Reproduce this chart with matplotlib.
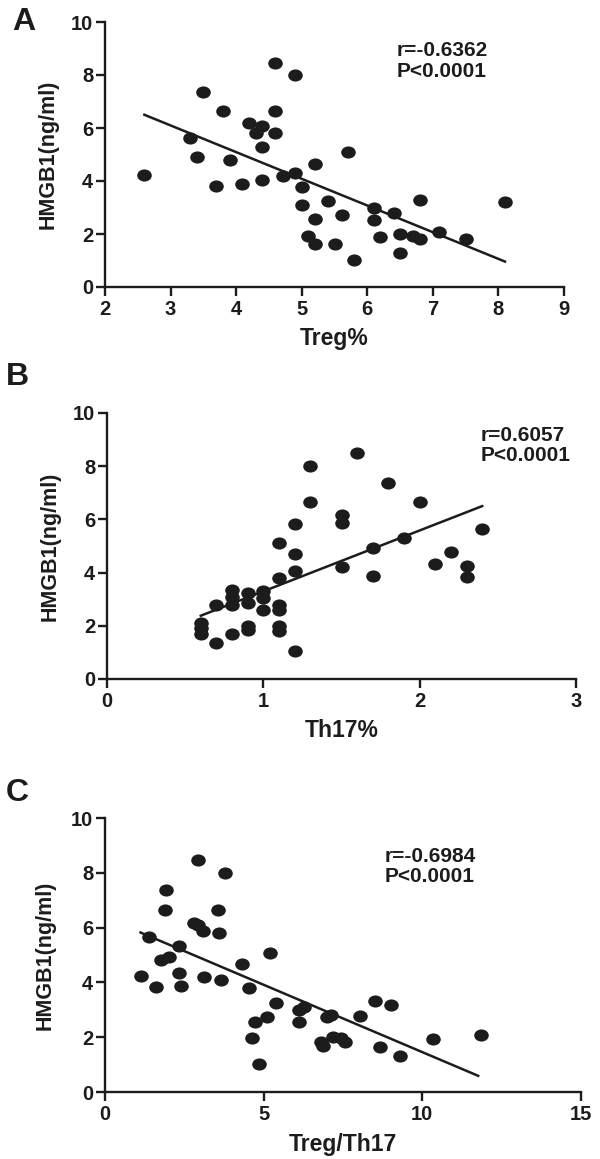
import matplotlib
matplotlib.use("Agg")
import matplotlib.pyplot as plt
from matplotlib.path import Path
from matplotlib.transforms import Affine2D

plt.rcParams['font.family'] = ['Liberation Sans', 'DejaVu Sans']
plt.rcParams['font.weight'] = 'bold'

# painel A: Treg% x HMGB1
treg_x = [2.60, 3.29, 3.41, 3.50, 3.69, 3.80, 3.90, 4.09, 4.19, 4.30, 4.40, 4.40, 4.40, 4.60,
          4.60, 4.60, 4.71, 4.90, 4.90, 5.00, 5.00, 5.10, 5.20, 5.20, 5.20, 5.40, 5.50, 5.61,
          5.70, 5.80, 6.10, 6.10, 6.20, 6.40, 6.50, 6.50, 6.70, 6.80, 6.80, 7.10, 7.50, 8.10]
treg_y = [4.23, 5.63, 4.89, 7.35, 3.80, 6.64, 4.79, 3.89, 6.17, 5.81, 6.06, 5.30, 4.05, 8.45,
          6.66, 5.83, 4.18, 8.00, 4.31, 3.77, 3.11, 1.94, 4.66, 2.55, 1.64, 3.24, 1.64, 2.70,
          5.08, 1.02, 2.99, 2.54, 1.89, 2.80, 1.99, 1.30, 1.91, 3.29, 1.81, 2.06, 1.81, 3.20]
treg_fit_x = [2.60, 8.10]
treg_fit_y = [6.50, 0.96]

# painel B: Th17% x HMGB1
th17_x = [0.60, 0.60, 0.60, 0.70, 0.70, 0.80, 0.80, 0.80, 0.80, 0.90, 0.90, 0.90, 0.90, 1.00,
          1.00, 1.00, 1.10, 1.10, 1.10, 1.10, 1.10, 1.10, 1.20, 1.20, 1.20, 1.20, 1.30, 1.30,
          1.50, 1.50, 1.50, 1.60, 1.70, 1.70, 1.80, 1.90, 2.00, 2.10, 2.20, 2.30, 2.30, 2.40]
th17_y = [2.10, 1.90, 1.69, 2.80, 1.35, 3.33, 3.10, 2.78, 1.69, 3.25, 2.85, 2.00, 1.85, 3.29,
          3.03, 2.58, 5.10, 3.79, 2.78, 2.58, 1.98, 1.81, 5.83, 4.69, 4.06, 1.04, 8.00, 6.66,
          6.15, 5.85, 4.20, 8.49, 4.91, 3.89, 7.35, 5.30, 6.65, 4.33, 4.79, 4.25, 3.83, 5.65]
th17_fit_x = [0.60, 2.40]
th17_fit_y = [2.38, 6.50]

# painel C: Treg/Th17 x HMGB1
razao_x = [1.14, 1.39, 1.60, 1.78, 2.02, 1.92, 1.90, 2.32, 2.32, 2.41, 2.80, 2.92, 2.92, 3.10,
           3.13, 3.55, 3.58, 3.66, 3.79, 4.32, 4.55, 4.72, 4.62, 4.85, 5.12, 5.20, 5.40, 6.10,
           6.10, 6.28, 6.82, 6.88, 7.00, 7.13, 7.20, 7.45, 7.57, 8.02, 8.52, 8.68, 9.00, 9.29,
           10.34, 11.86]
razao_y = [4.22, 5.65, 3.83, 4.80, 4.93, 7.37, 6.63, 5.32, 4.34, 3.88, 6.17, 8.47, 6.08, 5.87,
           4.19, 6.66, 5.82, 4.07, 7.98, 4.68, 3.78, 2.56, 1.96, 1.03, 2.74, 5.07, 3.23, 3.01,
           2.56, 3.12, 1.82, 1.69, 2.75, 2.81, 2.02, 1.96, 1.81, 2.76, 3.31, 1.66, 3.19, 1.33,
           1.92, 2.08]
razao_fit_x = [1.12, 11.76]
razao_fit_y = [5.82, 0.59]

letras = ['A', 'B', 'C']
xlabels = ['Treg%', 'Th17%', 'Treg/Th17']
ylabel = 'HMGB1(ng/ml)'
textos = ['r=-0.6362\nP<0.0001', 'r=0.6057\nP<0.0001', 'r=-0.6984\nP<0.0001']
xlims = [(2, 9), (0, 3), (0, 15)]
xticks = [[2, 3, 4, 5, 6, 7, 8, 9], [0, 1, 2, 3], [0, 5, 10, 15]]
yticks = [0, 2, 4, 6, 8, 10]

# posicoes dos eixos em pixels (esq, topo, dir, base) numa figura 600x1159
W, H = 600, 1159
caixas = [(105, 22, 564, 287), (107, 413, 576, 679), (105, 818, 581, 1092)]
pos_letras = [(24, 22), (17, 377), (17, 793)]
pos_texto = [(0.636, 0.853), (0.797, 0.878), (0.588, 0.823)]
ylabel_x = [-0.100, -0.098, -0.103]

cor = '#1c1c1c'
# pontos levemente achatados, como no original
elipse = Path.unit_circle().transformed(Affine2D().scale(1.2, 1.0))

fig = plt.figure(figsize=(W / 100, H / 100), dpi=100)

series = [(treg_x, treg_y, treg_fit_x, treg_fit_y),
          (th17_x, th17_y, th17_fit_x, th17_fit_y),
          (razao_x, razao_y, razao_fit_x, razao_fit_y)]

for i, (xs, ys, fx, fy) in enumerate(series):
    l, t, r, b = caixas[i]
    ax = fig.add_axes([l / W, 1 - b / H, (r - l) / W, (b - t) / H])
    ax.scatter(xs, ys, s=110, marker=elipse, color=cor, linewidths=0, zorder=3, clip_on=False)
    ax.plot(fx, fy, color=cor, linewidth=1.8, zorder=2)

    ax.set_xlim(*xlims[i])
    ax.set_ylim(0, 10)
    ax.set_xticks(xticks[i])
    ax.set_yticks(yticks)
    ax.spines['top'].set_visible(False)
    ax.spines['right'].set_visible(False)
    for s in ['left', 'bottom']:
        ax.spines[s].set_linewidth(1.7)
        ax.spines[s].set_color(cor)
    ax.tick_params(width=1.7, length=6.5, color=cor, labelsize=14.5, labelcolor=cor)
    ax.tick_params(axis='y', pad=2)
    ax.tick_params(axis='x', pad=3)

    ax.set_xlabel(xlabels[i], fontsize=16.5, fontweight='bold', color=cor)
    ax.set_ylabel(ylabel, fontsize=15.5, fontweight='bold', color=cor)
    ax.xaxis.set_label_coords(0.5, -0.15)
    ax.yaxis.set_label_coords(ylabel_x[i], 0.5)

    ax.text(pos_texto[i][0], pos_texto[i][1], textos[i], transform=ax.transAxes,
            fontsize=15, fontweight='bold', color=cor, ha='left', va='center', linespacing=1.1)

    fig.text(pos_letras[i][0] / W, 1 - pos_letras[i][1] / H, letras[i],
             fontsize=23, fontweight='bold', color=cor, ha='center', va='center')

fig.savefig('out.png', dpi=100, facecolor='white')
